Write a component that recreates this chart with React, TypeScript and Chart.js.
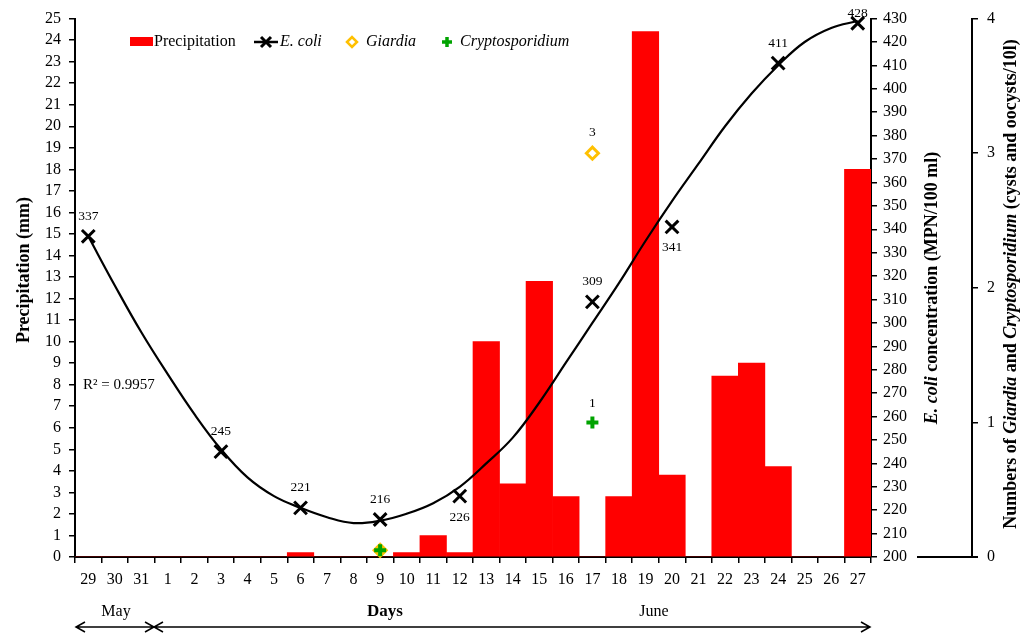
import React, { useEffect, useRef } from "react";
import { Chart, registerables } from "chart.js";
Chart.register(...registerables);

const SERIF = "'Liberation Serif', 'Times New Roman', Times, serif";

// Categories (days, 29 May – 27 June)
const days = ["29","30","31","1","2","3","4","5","6","7","8","9","10","11","12","13","14","15","16","17","18","19","20","21","22","23","24","25","26","27"];

// Precipitation (mm)
const precipitation = [0,0,0,0,0,0,0,0,0.2,0,0,0,0.2,1.0,0.2,10,3.4,12.8,2.8,0,2.8,24.4,3.8,0,8.4,9.0,4.2,0,0,18];

// E. coli (MPN/100 ml)
const ecoli = [337,null,null,null,null,245,null,null,221,null,null,216,null,null,226,null,null,null,null,309,null,null,341,null,null,null,411,null,null,428];

// Polynomial trend of E. coli at each day
const ecoliTrend = [337,316,296,278,261,246,234,226,221,217,214.5,215.5,218.5,223,230,240,251,266,283,300,317,335,352,368,384,398,410,420,426,429];

// Giardia and Cryptosporidium counts (cysts/oocysts per 10 l)
const giardia = [null,null,null,null,null,null,null,null,null,null,null,0.05,null,null,null,null,null,null,null,3,null,null,null,null,null,null,null,null,null,null];
const crypto = [null,null,null,null,null,null,null,null,null,null,null,0.05,null,null,null,null,null,null,null,1,null,null,null,null,null,null,null,null,null,null];

// Which E. coli labels sit below their point
const ecoliLabelBelow = [14, 22];
const r2Text = "R\u00B2 = 0.9957";

const RED = "#FF0000";
const ORANGE = "#FFC000";
const GREEN = "#00A300";

function drawRotated(ctx: CanvasRenderingContext2D, cx: number, cy: number, segs: [string, string][]) {
  ctx.save();
  ctx.translate(cx, cy);
  ctx.rotate(-Math.PI / 2);
  let total = 0;
  for (const [t, f] of segs) { ctx.font = f; total += ctx.measureText(t).width; }
  let x = -total / 2;
  ctx.textBaseline = "middle";
  ctx.textAlign = "left";
  ctx.fillStyle = "#000";
  for (const [t, f] of segs) { ctx.font = f; ctx.fillText(t, x, 0); x += ctx.measureText(t).width; }
  ctx.restore();
}

function arrow(ctx: CanvasRenderingContext2D, x1: number, x2: number, y: number) {
  ctx.save();
  ctx.strokeStyle = "#000";
  ctx.lineWidth = 1.5;
  ctx.beginPath();
  ctx.moveTo(x1, y); ctx.lineTo(x2, y);
  ctx.moveTo(x1 + 9, y - 5); ctx.lineTo(x1, y); ctx.lineTo(x1 + 9, y + 5);
  ctx.moveTo(x2 - 9, y - 5); ctx.lineTo(x2, y); ctx.lineTo(x2 - 9, y + 5);
  ctx.stroke();
  ctx.restore();
}

const decorPlugin = {
  id: "decor",
  afterDraw(chart: any) {
    const ctx: CanvasRenderingContext2D = chart.ctx;
    ctx.save();
    // Legend
    const ly = 42;
    ctx.fillStyle = RED;
    ctx.fillRect(130, ly - 5, 23, 9);
    ctx.fillStyle = "#000";
    ctx.textBaseline = "middle";
    ctx.textAlign = "left";
    ctx.font = `16px ${SERIF}`;
    ctx.fillText("Precipitation", 154, ly);
    ctx.strokeStyle = "#000";
    ctx.lineWidth = 2.5;
    ctx.beginPath(); ctx.moveTo(254, ly); ctx.lineTo(278, ly); ctx.stroke();
    ctx.lineWidth = 3;
    ctx.beginPath();
    ctx.moveTo(261, ly - 5); ctx.lineTo(271, ly + 5);
    ctx.moveTo(261, ly + 5); ctx.lineTo(271, ly - 5);
    ctx.stroke();
    ctx.font = `italic 16px ${SERIF}`;
    ctx.fillText("E. coli", 280, ly);
    ctx.strokeStyle = ORANGE;
    ctx.lineWidth = 2.5;
    ctx.beginPath();
    ctx.moveTo(347, ly); ctx.lineTo(352, ly - 5); ctx.lineTo(357, ly); ctx.lineTo(352, ly + 5); ctx.closePath();
    ctx.stroke();
    ctx.fillText("Giardia", 366, ly);
    ctx.strokeStyle = GREEN;
    ctx.lineWidth = 3.5;
    ctx.beginPath();
    ctx.moveTo(442, ly); ctx.lineTo(452, ly);
    ctx.moveTo(447, ly - 5); ctx.lineTo(447, ly + 5);
    ctx.stroke();
    ctx.fillText("Cryptosporidium", 460, ly);

    // Data labels
    ctx.font = `13.5px ${SERIF}`;
    ctx.textAlign = "center";
    ctx.fillStyle = "#000";
    const em = chart.getDatasetMeta(2);
    ecoli.forEach((v, i) => {
      if (v == null) return;
      const p = em.data[i];
      let dy = ecoliLabelBelow.includes(i) ? 21 : -20;
      if (i === ecoli.length - 1) dy = -10;
      ctx.fillText(String(v), p.x, p.y + dy);
    });
    const gm = chart.getDatasetMeta(3);
    giardia.forEach((v, i) => {
      if (v == null || v < 0.5) return;
      const p = gm.data[i];
      ctx.fillText(String(v), p.x, p.y - 21);
    });
    const cm = chart.getDatasetMeta(4);
    crypto.forEach((v, i) => {
      if (v == null || v < 0.5) return;
      const p = cm.data[i];
      ctx.fillText(String(v), p.x, p.y - 19);
    });

    // R²
    ctx.font = `15px ${SERIF}`;
    ctx.textAlign = "left";
    ctx.fillText(r2Text, 83, 385);

    // Axis titles
    drawRotated(ctx, 24, 270, [["Precipitation (mm)", `bold 18px ${SERIF}`]]);
    drawRotated(ctx, 932, 288, [["E. coli", `italic bold 18px ${SERIF}`], [" concentration (MPN/100 ml)", `bold 18px ${SERIF}`]]);
    drawRotated(ctx, 1011, 284, [
      ["Numbers of ", `bold 18px ${SERIF}`],
      ["Giardia", `italic bold 18px ${SERIF}`],
      [" and ", `bold 18px ${SERIF}`],
      ["Cryptosporidium", `italic bold 18px ${SERIF}`],
      [" (cysts and oocysts/10l)", `bold 18px ${SERIF}`],
    ]);

    // Bottom texts
    ctx.textAlign = "center";
    ctx.textBaseline = "middle";
    ctx.font = `16px ${SERIF}`;
    ctx.fillText("May", 116, 612);
    ctx.fillText("June", 654, 612);
    ctx.font = `bold 17px ${SERIF}`;
    ctx.fillText("Days", 385, 612);
    arrow(ctx, 76, 154, 627);
    arrow(ctx, 154, 870, 627);

    // bottom line of the count axis
    const ca = chart.chartArea;
    ctx.strokeStyle = "#000";
    ctx.lineWidth = 2;
    ctx.beginPath();
    ctx.moveTo(917, ca.bottom); ctx.lineTo(978, ca.bottom);
    ctx.stroke();
    ctx.restore();
  },
};

export default function App() {
  const ref = useRef<HTMLCanvasElement>(null);
  useEffect(() => {
    const tickFont = { family: SERIF, size: 16 };
    const axisGrid = { drawOnChartArea: false, color: "#000", tickLength: 6, lineWidth: 1.5 };
    const border = { color: "#000", width: 2 };
    const chart = new Chart(ref.current!, {
      type: "bar",
      data: {
        labels: days,
        datasets: [
          {
            type: "bar",
            label: "Precipitation",
            data: precipitation,
            backgroundColor: RED,
            borderWidth: 0,
            barPercentage: 1,
            categoryPercentage: 1,
            yAxisID: "y",
            order: 5,
          } as any,
          {
            type: "line",
            label: "trend",
            data: ecoliTrend,
            borderColor: "#000",
            borderWidth: 2.2,
            pointRadius: 0,
            tension: 0.4,
            fill: false,
            yAxisID: "y1",
            order: 4,
          } as any,
          {
            type: "line",
            label: "E. coli",
            data: ecoli,
            showLine: false,
            pointStyle: "crossRot",
            pointRadius: 9,
            pointBorderWidth: 3,
            pointBorderColor: "#000",
            pointBackgroundColor: "#000",
            yAxisID: "y1",
            clip: false,
            order: 3,
          } as any,
          {
            type: "line",
            label: "Giardia",
            data: giardia,
            showLine: false,
            pointStyle: "rectRot",
            pointRadius: 6,
            pointBorderWidth: 3,
            pointBorderColor: ORANGE,
            pointBackgroundColor: "#fff",
            yAxisID: "y2",
            clip: false,
            order: 2,
          } as any,
          {
            type: "line",
            label: "Cryptosporidium",
            data: crypto,
            showLine: false,
            pointStyle: "cross",
            pointRadius: 6,
            pointBorderWidth: 4,
            pointBorderColor: GREEN,
            pointBackgroundColor: GREEN,
            yAxisID: "y2",
            clip: false,
            order: 1,
          } as any,
        ],
      },
      options: {
        responsive: false,
        animation: false,
        layout: { padding: { top: 17, left: 0, right: 0, bottom: 0 } },
        plugins: { legend: { display: false }, tooltip: { enabled: false } },
        scales: {
          x: {
            type: "category",
            offset: true,
            grid: { ...axisGrid, offset: true },
            border,
            ticks: { color: "#000", font: tickFont, padding: 7, maxRotation: 0, autoSkip: false },
            afterFit: (s: any) => { s.height = 76; },
          },
          y: {
            position: "left",
            min: 0,
            max: 25,
            grid: axisGrid,
            border,
            ticks: { stepSize: 1, color: "#000", font: tickFont, padding: 8, autoSkip: false },
            afterFit: (s: any) => { s.width = 75; },
          },
          y1: {
            position: "right",
            min: 200,
            max: 430,
            grid: axisGrid,
            border,
            ticks: { stepSize: 10, color: "#000", font: tickFont, padding: 6, autoSkip: false },
            afterFit: (s: any) => { s.width = 101; },
          },
          y2: {
            position: "right",
            min: 0,
            max: 4,
            grid: axisGrid,
            border,
            ticks: { stepSize: 1, color: "#000", font: tickFont, padding: 9, autoSkip: false },
            afterFit: (s: any) => { s.width = 62; },
          },
        },
      } as any,
      plugins: [decorPlugin],
    });
    return () => chart.destroy();
  }, []);
  return (
    <div style={{ position: "fixed", left: 0, top: 0, width: 1034, height: 633, background: "#fff" }}>
      <canvas ref={ref} width={1034} height={633} style={{ display: "block" }} />
    </div>
  );
}
